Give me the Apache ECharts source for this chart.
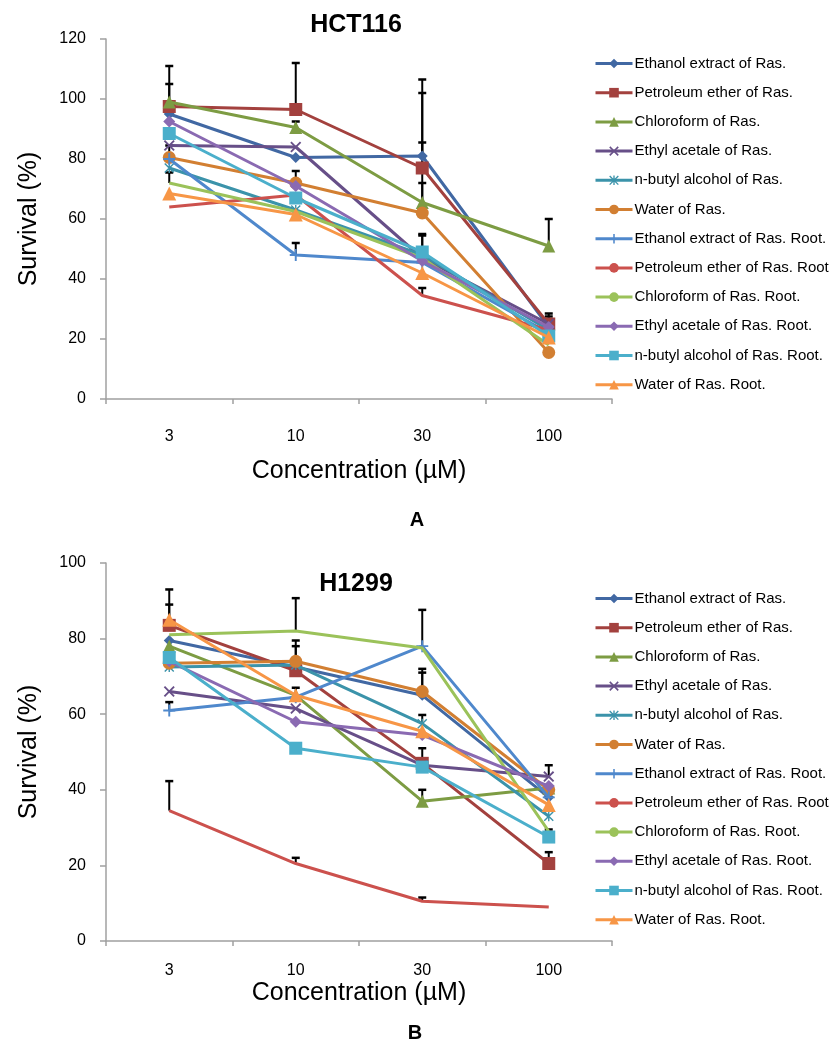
<!DOCTYPE html>
<html>
<head>
<meta charset="utf-8">
<script src="https://cdn.jsdelivr.net/npm/echarts@6/dist/echarts.min.js"></script>
<style>
html,body{margin:0;padding:0;background:#fff;}
#chart{width:829px;height:1048px;}
</style>
</head>
<body>
<div id="chart"></div>
<script>
// ---------- data ----------
const categories = ['3', '10', '30', '100'];
const seriesNames = [
  'Ethanol extract of Ras.',
  'Petroleum ether of Ras.',
  'Chloroform of Ras.',
  'Ethyl acetale of Ras.',
  'n-butyl alcohol of Ras.',
  'Water of Ras.',
  'Ethanol extract of Ras. Root.',
  'Petroleum ether of Ras. Root.',
  'Chloroform of Ras. Root.',
  'Ethyl acetale of Ras. Root.',
  'n-butyl alcohol of Ras. Root.',
  'Water of Ras. Root.'
];
// HCT116 survival (%), one row per series, columns follow categories
const hctSurvival = [
  [95, 80.5, 81, 24],
  [97.5, 96.5, 77, 25],
  [99, 90.5, 65.5, 51],
  [84.5, 84, 47, 25],
  [77, 63, 48, 23],
  [80.5, 72, 62, 15.5],
  [80, 48, 45.5, 22],
  [64, 68, 34.5, 23],
  [72, 62.5, 47, 18],
  [92.5, 71, 46, 24],
  [88.5, 67, 49, 21],
  [68.5, 61.5, 42, 20.5]
];
// HCT116 upper error (%)
const hctError = [
  [10, 0, 21, 3.5],
  [13.5, 15.5, 29.5, 3.5],
  [0, 2, 20, 9],
  [0, 0, 7.5, 0],
  [0, 0, 0, 0],
  [4, 4, 10, 0],
  [0, 4, 0, 0],
  [0, 0, 2.5, 0],
  [3.5, 0, 0, 0],
  [0, 0, 0, 0],
  [0, 0, 6, 0],
  [0, 0, 0, 0]
];
// H1299 survival (%)
const h1299Survival = [
  [79.5, 72.5, 65, 38],
  [83.5, 71.5, 47, 20.5],
  [78, 65, 37, 40.5],
  [66, 61.5, 46.5, 43.5],
  [72.5, 73, 57.5, 33],
  [73.5, 74, 66, 40],
  [61, 64.5, 78, 38],
  [34.5, 20.5, 10.5, 9],
  [81, 82, 77.5, 29],
  [74, 58, 54.5, 41],
  [75, 51, 46, 27.5],
  [85, 65, 55.5, 36]
];
// H1299 upper error (%)
const h1299Error = [
  [0, 0, 6, 0],
  [5.5, 0, 4, 3],
  [0, 0, 3, 0],
  [0, 0, 0, 3],
  [0, 5, 2.3, 0],
  [0, 5.5, 6, 0],
  [2.2, 0, 9.6, 0],
  [7.8, 1.5, 1, 0],
  [0, 8.7, 0, 0],
  [0, 0, 0, 0],
  [0, 0, 0, 2],
  [8, 2, 0, 0]
];
const hctTicks = [0, 20, 40, 60, 80, 100, 120];
const h1299Ticks = [0, 20, 40, 60, 80, 100];

// ---------- styles ----------
const colors = ['#4168a3', '#a3413e', '#7d9c43', '#674f88', '#3b93aa', '#d27f32',
                '#4f88cc', '#cc514d', '#9bc25a', '#8a6ab2', '#4bafcb', '#f79646'];
const P_X = 'path://M0,1.2 L1.2,0 L5,3.8 L8.8,0 L10,1.2 L6.2,5 L10,8.8 L8.8,10 L5,6.2 L1.2,10 L0,8.8 L3.8,5 Z';
const P_STAR = 'path://M4.3,0 H5.7 V10 H4.3 Z M0,1 L1,0 L10,9 L9,10 Z M9,0 L10,1 L1,10 L0,9 Z';
const P_PLUS = 'path://M4.2,0 H5.8 V4.2 H10 V5.8 H5.8 V10 H4.2 V5.8 H0 V4.2 H4.2 Z';
const symbols = ['diamond', 'rect', 'triangle', P_X, P_STAR, 'circle',
                 P_PLUS, 'none', 'none', 'diamond', 'rect', 'triangle'];
const symbolSizes = [11, 13, 13, 11, 10, 13, 12, 0, 0, 12, 13, 14];
const FONT = 'Liberation Sans, Arial, sans-serif';

function lineSeries(values, gi) {
  return values.map((row, i) => ({
    name: seriesNames[i],
    type: 'line',
    xAxisIndex: gi, yAxisIndex: gi,
    data: row,
    symbol: symbols[i],
    symbolSize: symbolSizes[i],
    showSymbol: symbols[i] !== 'none',
    lineStyle: { color: colors[i], width: 3 },
    itemStyle: { color: colors[i], borderWidth: 0 },
    z: 3 + i * 0.01,
    animation: false
  }));
}
function errorSeries(values, errors, gi) {
  const data = [];
  values.forEach((row, i) => row.forEach((v, j) => {
    if (errors[i][j] > 0) data.push([j, v, v + errors[i][j]]);
  }));
  return {
    type: 'custom', xAxisIndex: gi, yAxisIndex: gi, z: 2, silent: true,
    animation: false,
    data: data,
    encode: { x: 0, y: [1, 2] },
    renderItem: function (params, api) {
      const x = api.value(0);
      const p0 = api.coord([x, api.value(1)]);
      const p1 = api.coord([x, api.value(2)]);
      const hw = 4;
      return {
        type: 'group',
        children: [
          { type: 'line', shape: { x1: p0[0], y1: p0[1], x2: p1[0], y2: p1[1] },
            style: { stroke: '#000', lineWidth: 2 } },
          { type: 'line', shape: { x1: p1[0] - hw, y1: p1[1], x2: p1[0] + hw, y2: p1[1] },
            style: { stroke: '#000', lineWidth: 2.5 } }
        ]
      };
    }
  };
}
function xAxis(gi, labelMargin, nameGap) {
  return {
    type: 'category', gridIndex: gi, data: categories, boundaryGap: true,
    name: 'Concentration (µM)', nameLocation: 'middle', nameGap: nameGap,
    nameTextStyle: { fontFamily: FONT, fontSize: 25, color: '#000' },
    axisLine: { lineStyle: { color: '#a0a0a0', width: 1.5 } },
    axisTick: { show: true, alignWithLabel: false, length: 5, lineStyle: { color: '#a0a0a0', width: 1.5 } },
    axisLabel: { fontFamily: FONT, fontSize: 16, color: '#000', margin: labelMargin },
    splitLine: { show: false }
  };
}
function yAxis(gi, max) {
  return {
    type: 'value', gridIndex: gi, min: 0, max: max, interval: 20,
    name: 'Survival (%)', nameLocation: 'middle', nameGap: 64, nameRotate: 90,
    nameTextStyle: { fontFamily: FONT, fontSize: 25, color: '#000' },
    axisLine: { show: true, lineStyle: { color: '#a0a0a0', width: 1.5 } },
    axisTick: { show: true, inside: false, length: 6, lineStyle: { color: '#a0a0a0', width: 1.5 } },
    axisLabel: { fontFamily: FONT, fontSize: 16, color: '#000', margin: 20 },
    splitLine: { show: false }
  };
}
function legend(top) {
  return {
    orient: 'vertical', left: 594, top: top, padding: 0,
    data: seriesNames,
    itemWidth: 37, itemHeight: 12, itemGap: 14.2,
    lineStyle: { width: 3 },
    textStyle: { fontFamily: FONT, fontSize: 15, color: '#000', padding: [0, 0, 0, -3] },
    selectedMode: false
  };
}
function label(text, x, y, size) {
  return { type: 'text', x: x, y: y,
    style: { text: text, fill: '#000', font: 'bold ' + size + 'px ' + FONT,
             textAlign: 'center', textVerticalAlign: 'middle' } };
}

const option = {
  backgroundColor: '#fff',
  animation: false,
  graphic: [
    label('HCT116', 356, 25, 25),
    label('H1299', 356, 584, 25),
    label('A', 417, 520, 20),
    label('B', 415, 1033, 20)
  ],
  legend: [legend(56), legend(591)],
  grid: [
    { left: 106, top: 39, width: 506, height: 360 },
    { left: 106, top: 563, width: 506, height: 378 }
  ],
  xAxis: [xAxis(0, 30, 60), xAxis(1, 22, 40)],
  yAxis: [yAxis(0, hctTicks[hctTicks.length - 1]), yAxis(1, h1299Ticks[h1299Ticks.length - 1])],
  series: [].concat(
    lineSeries(hctSurvival, 0),
    [errorSeries(hctSurvival, hctError, 0)],
    lineSeries(h1299Survival, 1),
    [errorSeries(h1299Survival, h1299Error, 1)]
  )
};
const chart = echarts.init(document.getElementById('chart'), null, { renderer: 'canvas' });
chart.setOption(option);
</script>
</body>
</html>
